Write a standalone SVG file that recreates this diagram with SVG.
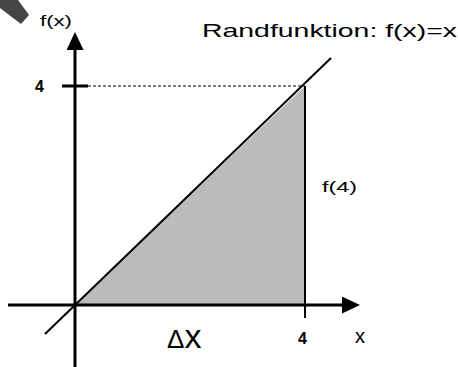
<svg xmlns="http://www.w3.org/2000/svg" width="458" height="367" viewBox="0 0 458 367">
<style>
.t{font-family:"Liberation Sans",Arial,sans-serif;fill:#000}
.b{font-weight:bold}
.ax{stroke:#000;stroke-width:3;fill:none}
.ln{stroke:#000;stroke-width:2;fill:none}
</style>
<defs>
<marker id="ah" markerWidth="18" markerHeight="18" refX="0" refY="8.5" orient="auto" markerUnits="userSpaceOnUse">
<path d="M0,0 L18,8.5 L0,17 Z" fill="#000"/>
</marker>
</defs>
<rect width="458" height="367" fill="#fff"/>
<polygon points="0,0 18,0 29,15 21,24 0,8" fill="#444"/>
<g id="area">
<polygon points="75,305 305,86 305,305" fill="#bbbbbb"/>
</g>
<g id="connectors">
<line class="ax" x1="8" y1="305" x2="342" y2="305" marker-end="url(#ah)"/>
<line class="ax" x1="75" y1="367" x2="75" y2="50" marker-end="url(#ah)"/>
<line class="ln" x1="45" y1="334" x2="331" y2="58"/>
<line class="ln" x1="305" y1="86" x2="305" y2="318"/>
<line class="ax" x1="62" y1="86" x2="88" y2="86"/>
<line stroke="#000" stroke-width="1.2" stroke-dasharray="3,2" x1="88" y1="86" x2="305" y2="86"/>
</g>
<g id="labels">
<text class="t" x="202" y="37" font-size="19" textLength="255" lengthAdjust="spacingAndGlyphs">Randfunktion: f(x)=x</text>
<text class="t" x="40" y="26" font-size="15" textLength="32" lengthAdjust="spacingAndGlyphs">f(x)</text>
<text class="t" x="322" y="192" font-size="15" textLength="35" lengthAdjust="spacingAndGlyphs">f(4)</text>
<text class="t b" x="35" y="92" font-size="16">4</text>
<text class="t b" x="298" y="344" font-size="16">4</text>
<text class="t" x="355" y="343" font-size="20">x</text>
<text class="t" x="167" y="348" font-size="26">Δ<tspan font-size="34">x</tspan></text>
</g>
</svg>
